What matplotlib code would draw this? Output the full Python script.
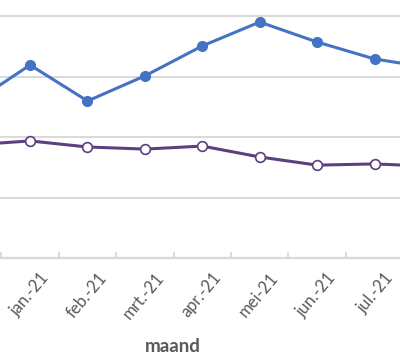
import numpy as np
import matplotlib
matplotlib.use('Agg')
from matplotlib import pyplot as plt
from matplotlib import transforms

# months, dec-20 and aug-21 fall just outside the visible crop
months = ['dec.-20', 'jan.-21', 'feb.-21', 'mrt.-21', 'apr.-21',
          'mei-21', 'jun.-21', 'jul.-21', 'aug.-21']
serie_blauw = [51.2, 63.8, 51.9, 60.2, 70.1, 78.0, 71.4, 65.8, 62.8]
serie_paars = [37.4, 38.7, 36.7, 36.0, 37.0, 33.4, 30.7, 31.1, 30.3]
yticks = [0, 20, 40, 60, 80, 100]

BLUE = '#4472c4'
PURPLE = '#5b3f7e'
GRID = '#d9d9d9'
TXT = '#595959'

plt.rcParams['font.family'] = ['Lato', 'DejaVu Sans']

fig = plt.figure(figsize=(4.0, 3.55), dpi=100)
ax = fig.add_axes([-56 / 400, 97 / 355, 516.6 / 400, 302.5 / 355])

x = np.arange(len(months))
ax.plot(x, serie_blauw, color=BLUE, lw=2.2, marker='o', ms=7,
        mfc=BLUE, mec=BLUE, zorder=3)
ax.plot(x, serie_paars, color=PURPLE, lw=2.2, marker='o', ms=7,
        mfc='white', mec=PURPLE, mew=1.2, zorder=3)

ax.set_xlim(-0.5, len(months) - 0.5)
ax.set_ylim(0, 100)
ax.set_yticks(yticks)
ax.yaxis.grid(True, color=GRID, lw=1.4)
ax.set_axisbelow(True)
ax.tick_params(axis='y', length=0, labelleft=False)

for s in ['top', 'right', 'left']:
    ax.spines[s].set_visible(False)
ax.spines['bottom'].set_color(GRID)
ax.spines['bottom'].set_linewidth(1.6)

# only the months that are inside the visible crop get a label
ax.set_xticks(x[1:-1])
ax.set_xticklabels(months[1:-1], rotation=50, ha='right', va='center',
                   rotation_mode='anchor', color=TXT, fontsize=12)
ax.set_xticks(x[:-1] + 0.5, minor=True)
ax.tick_params(axis='x', which='major', length=0, pad=12)
ax.tick_params(axis='x', which='minor', length=4, direction='in',
               color=GRID, width=1.3)
off = transforms.ScaledTranslation(16 / 100, 0, fig.dpi_scale_trans)
for lab in ax.get_xticklabels():
    lab.set_transform(lab.get_transform() + off)

fig.text(172.5 / 400, 1 - 346 / 355, 'maand', ha='center', va='center',
         fontsize=13.5, fontweight='bold', color=TXT)

fig.savefig('out.png', dpi=100)
